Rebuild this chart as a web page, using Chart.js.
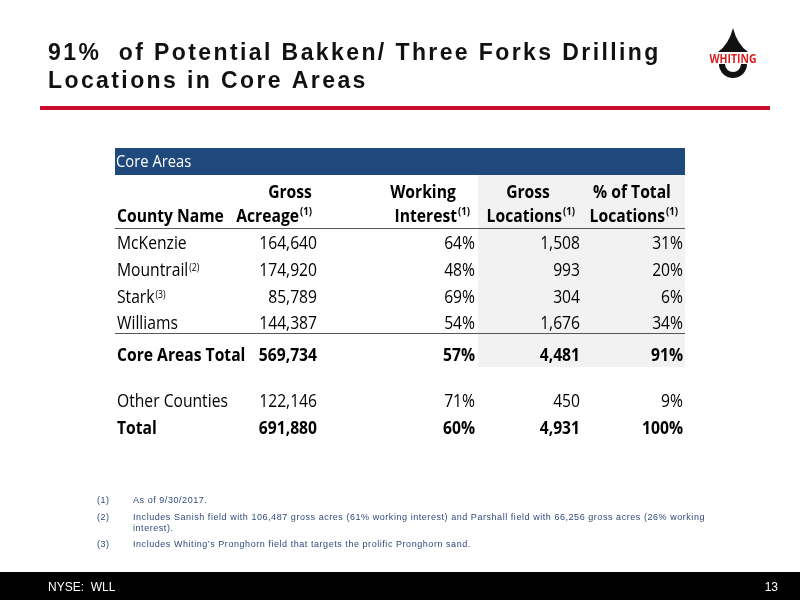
<!DOCTYPE html>
<html><head><meta charset="utf-8">
<script src="https://cdn.jsdelivr.net/npm/chart.js@4/dist/chart.umd.min.js"></script>
<style>html,body{margin:0;padding:0;background:#fff}#c{display:block}</style>
</head><body>
<div style="width:800px;height:600px"><canvas id="c"></canvas></div>
<script>
// --- table data ---
const countyNames = ['McKenzie', 'Mountrail', 'Stark', 'Williams', 'Core Areas Total', 'Other Counties', 'Total'];
const countySup = ['', '(2)', '(3)', '', '', '', ''];
const grossAcreage = [164640, 174920, 85789, 144387, 569734, 122146, 691880];
const workingInterest = [64, 48, 69, 54, 57, 71, 60];
const grossLocations = [1508, 993, 304, 1676, 4481, 450, 4931];
const pctOfTotal = [31, 20, 6, 34, 91, 9, 100];
const boldRows = [false, false, false, false, true, false, true];
const footnotes = [
    ['(1)', 'As of 9/30/2017.'],
    ['(2)', 'Includes Sanish field with 106,487 gross acres (61% working interest) and Parshall field with 66,256 gross acres (26% working', 'interest).'],
    ['(3)', 'Includes Whiting\u2019s Pronghorn field that targets the prolific Pronghorn sand.']
];

// layout (slide coordinates, mapped through the x/y scales)
const rowY = [242, 269, 296, 322, 354, 400, 427];
const colRight = [317, 475, 580, 683];
const tableL = 115, tableR = 685;
const fnt = '"Open Sans", sans-serif';
const squeeze = 0.87;
const fmt = n => n.toLocaleString('en-US');

// condensed text: Calibri-like width from Open Sans
const cText = (ctx, s, x, y, align) => {
    ctx.save();
    ctx.translate(x, y);
    ctx.scale(squeeze, 1);
    ctx.textAlign = align;
    ctx.fillText(s, 0, 0);
    ctx.restore();
};
const cWidth = (ctx, s) => ctx.measureText(s).width * squeeze;

const tablePlugin = {
    id: 'slide',
    afterDraw(chart) {
        const ctx = chart.ctx;
        const X = v => chart.scales.x.getPixelForValue(v);
        const Y = v => chart.scales.y.getPixelForValue(v);
        ctx.save();
        ctx.textBaseline = 'alphabetic';

        // title
        ctx.fillStyle = '#111';
        ctx.font = 'bold 23px "Liberation Sans", Arial, sans-serif';
        ctx.letterSpacing = '2.4px';
        ctx.textAlign = 'left';
        ctx.fillText('91%  of Potential Bakken/ Three Forks Drilling', X(48), Y(60));
        ctx.fillText('Locations in Core Areas', X(48), Y(88));
        ctx.letterSpacing = '0px';

        // logo
        ctx.fillStyle = '#111';
        ctx.beginPath();
        ctx.moveTo(X(733), Y(28));
        ctx.quadraticCurveTo(X(737), Y(44), X(748), Y(52));
        ctx.lineTo(X(718), Y(52));
        ctx.quadraticCurveTo(X(729), Y(44), X(733), Y(28));
        ctx.fill();
        ctx.beginPath();
        ctx.arc(X(733), Y(64), 14, 0, Math.PI);
        ctx.fill();
        ctx.fillStyle = '#fff';
        ctx.beginPath();
        ctx.arc(X(733), Y(64), 8, 0, Math.PI);
        ctx.fill();
        ctx.fillStyle = '#d81e1e';
        ctx.font = 'bold 12px ' + fnt;
        cText(ctx, 'WHITING', X(733), Y(63), 'center');

        // red rule
        ctx.fillStyle = '#c8102e';
        ctx.fillRect(X(40), Y(106), X(770) - X(40), 4);

        // table header band + shaded columns
        ctx.fillStyle = '#1f497d';
        ctx.fillRect(X(tableL), Y(148), X(tableR) - X(tableL), Y(175) - Y(148));
        ctx.fillStyle = '#f2f2f2';
        ctx.fillRect(X(478), Y(175), X(tableR) - X(478), Y(367) - Y(175));
        ctx.fillStyle = '#fff';
        ctx.font = '17px ' + fnt;
        cText(ctx, 'Core Areas', X(116), Y(167), 'left');

        // column headers
        ctx.fillStyle = '#000';
        ctx.font = 'bold 18px ' + fnt;
        cText(ctx, 'County Name', X(117), Y(222), 'left');
        const head1 = ['Gross', 'Working', 'Gross', '% of Total'];
        const head2 = ['Acreage', 'Interest', 'Locations', 'Locations'];
        const cx = [290, 423, 528, 632];
        head1.forEach((h, i) => cText(ctx, h, X(cx[i]), Y(198), 'center'));
        head2.forEach((h, i) => {
            ctx.font = 'bold 18px ' + fnt;
            cText(ctx, h, X(colRight[i] - 18), Y(222), 'right');
            ctx.font = 'bold 11px ' + fnt;
            cText(ctx, '(1)', X(colRight[i] - 17), Y(215), 'left');
        });

        // rules
        ctx.strokeStyle = '#555';
        ctx.lineWidth = 1;
        [228, 333].forEach(y => {
            ctx.beginPath();
            ctx.moveTo(X(tableL), Y(y) + 0.5);
            ctx.lineTo(X(tableR), Y(y) + 0.5);
            ctx.stroke();
        });

        // body rows
        countyNames.forEach((name, r) => {
            const b = boldRows[r] ? 'bold ' : '';
            ctx.font = b + '18px ' + fnt;
            ctx.fillStyle = '#000';
            cText(ctx, name, X(117), Y(rowY[r] + 7), 'left');
            if (countySup[r]) {
                const w = cWidth(ctx, name);
                ctx.font = '10px ' + fnt;
                cText(ctx, countySup[r], X(117) + w + 1, Y(rowY[r] + 2), 'left');
                ctx.font = b + '18px ' + fnt;
            }
            const vals = [fmt(grossAcreage[r]), workingInterest[r] + '%', fmt(grossLocations[r]), pctOfTotal[r] + '%'];
            vals.forEach((v, i) => cText(ctx, v, X(colRight[i]), Y(rowY[r] + 7), 'right'));
        });

        // footnotes
        ctx.fillStyle = '#2f4a7a';
        ctx.font = '9px "Liberation Sans", Arial, sans-serif';
        ctx.letterSpacing = '0.55px';
        ctx.textAlign = 'left';
        const fy = [503, 520, 547];
        footnotes.forEach((f, i) => {
            ctx.fillText(f[0], X(97), Y(fy[i]));
            ctx.fillText(f[1], X(133), Y(fy[i]));
            if (f[2]) ctx.fillText(f[2], X(133), Y(fy[i] + 11));
        });
        ctx.letterSpacing = '0px';

        // footer
        ctx.fillStyle = '#000';
        ctx.fillRect(X(0), Y(572), X(800) - X(0), Y(600) - Y(572));
        ctx.fillStyle = '#fff';
        ctx.font = '12px "Liberation Sans", Arial, sans-serif';
        ctx.fillText('NYSE:  WLL', X(48), Y(591));
        ctx.textAlign = 'right';
        ctx.fillText('13', X(778), Y(591));
        ctx.restore();
    }
};

new Chart(document.getElementById('c'), {
    type: 'scatter',
    data: { datasets: [{ data: [], pointRadius: 0 }] },
    options: {
        responsive: true,
        maintainAspectRatio: false,
        animation: false,
        layout: { padding: 0 },
        plugins: { legend: { display: false }, tooltip: { enabled: false } },
        scales: {
            x: { type: 'linear', min: 0, max: 800, display: false },
            y: { type: 'linear', min: 0, max: 600, reverse: true, display: false }
        }
    },
    plugins: [tablePlugin]
});
</script>
</body></html>
